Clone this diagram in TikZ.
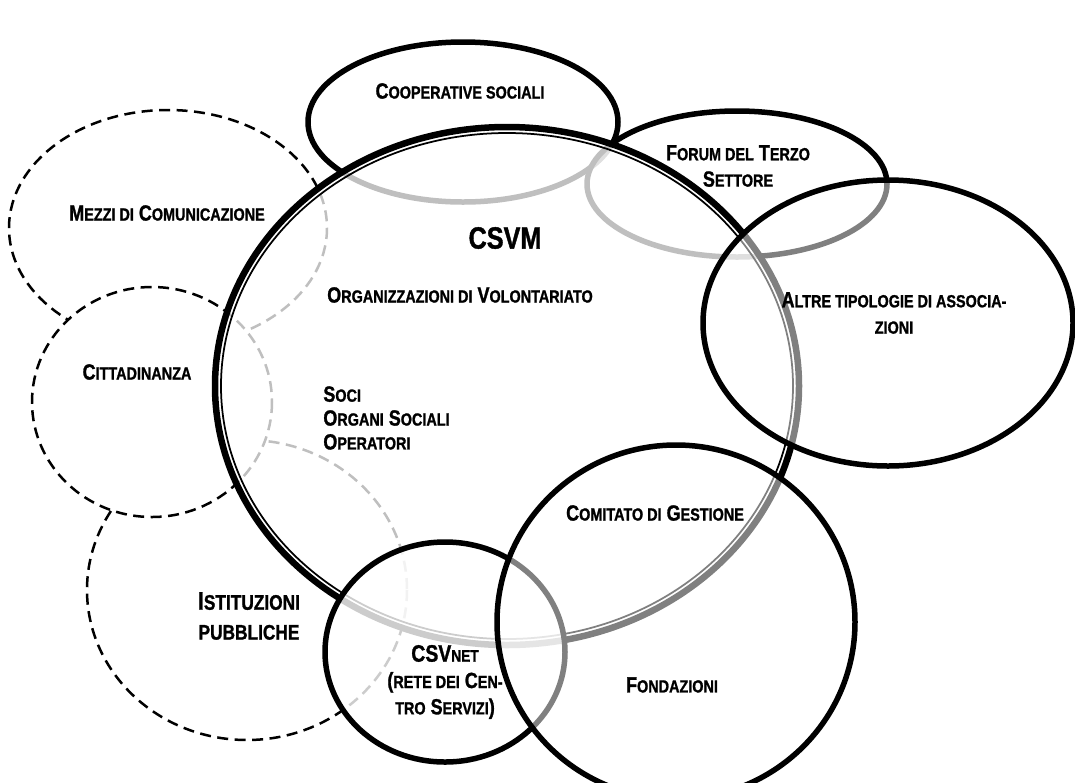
\documentclass[tikz,border=0pt]{standalone}
\usepackage{fontspec}
\setmainfont{Liberation Sans}[FakeStretch=0.82, BoldFeatures={FakeBold=1.2}]
\newcommand{\sml}[1]{{\fontsize{10}{12}\selectfont #1}}

\begin{document}
\begin{tikzpicture}[x=0.02cm, y=-0.02cm,
  every node/.style={align=center, inner sep=0pt, font=\bfseries\fontsize{12.5}{15}\selectfont},
  ring/.style={line width=0.11cm, fill=white, fill opacity=0.5},
  cloud/.style={line width=0.05cm, dash pattern=on 0.22cm off 0.13cm}]
\useasboundingbox (0,0) rectangle (1075,782);

% Outer partners (dashed)
\draw[cloud] (168,228) ellipse [x radius=159, y radius=118];
\draw[cloud] (247,590) ellipse [x radius=160, y radius=150];
\draw[cloud, fill=white] (152,402) ellipse [x radius=120, y radius=115];

% Partners behind the centre
\draw[ring, fill opacity=1] (463,122) ellipse [x radius=155, y radius=80];
\draw[ring] (737,184) ellipse [x radius=150, y radius=73];

% CSVM
\draw[line width=0.13cm, fill=white, fill opacity=0.75] (507,386) ellipse [x radius=292, y radius=259];
\draw[line width=0.035cm] (507,386) ellipse [x radius=286, y radius=253];

% Partners in front
\draw[ring] (888,323) ellipse [x radius=185, y radius=143];
\draw[ring, fill opacity=0.8] (445,652) ellipse [x radius=120, y radius=110];
\draw[ring] (676,622) ellipse [x radius=179, y radius=177];

% Labels
\node (coop) at (460,91) {C\sml{OOPERATIVE SOCIALI}};
\node (forum) at (738,166) {F\sml{ORUM DEL} T\sml{ERZO}\\S\sml{ETTORE}};
\node (csvm) at (505,238) {\fontsize{17.5}{20}\selectfont CSVM};
\node (odv) at (460,295) {O\sml{RGANIZZAZIONI DI} V\sml{OLONTARIATO}};
\node (altre) at (894,313) {A\sml{LTRE TIPOLOGIE DI ASSOCIA-}\\\sml{ZIONI}};
\node (mezzi) at (167,213) {M\sml{EZZI DI} C\sml{OMUNICAZIONE}};
\node (citt) at (137,372) {C\sml{ITTADINANZA}};
\node[align=left, anchor=west, font=\bfseries\fontsize{12.5}{13.6}\selectfont] (soci) at (323,418) {S\sml{OCI}\\O\sml{RGANI} S\sml{OCIALI}\\O\sml{PERATORI}};
\node[font=\bfseries\fontsize{14.5}{17}\selectfont] (ist) at (249,616) {I{\fontsize{12}{14}\selectfont STITUZIONI}\\{\fontsize{12}{14}\selectfont PUBBLICHE}};
\node (csvnet) at (445,682) {{\fontsize{13.5}{15}\selectfont CSV}{\fontsize{9.5}{11}\selectfont NET}\\(\sml{RETE DEI} C\sml{EN-}\\\sml{TRO} S\sml{ERVIZI})};
\node (comitato) at (655,513) {C\sml{OMITATO DI} G\sml{ESTIONE}};
\node (fond) at (672,685) {F\sml{ONDAZIONI}};
\end{tikzpicture}
\end{document}
